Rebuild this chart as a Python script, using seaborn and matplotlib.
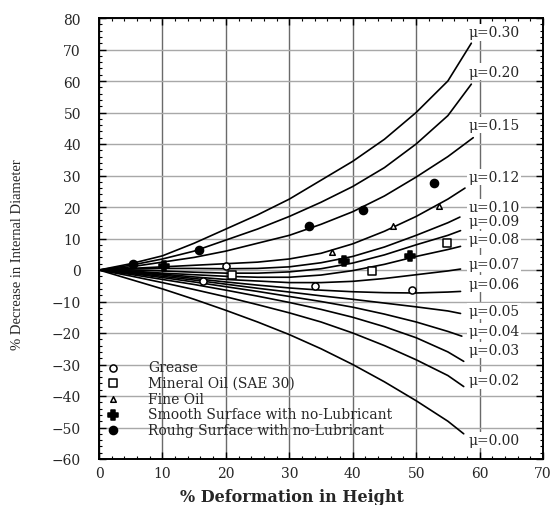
import pandas as pd
import numpy as np
import seaborn as sns
import matplotlib.pyplot as plt
from matplotlib.ticker import MultipleLocator

# valores leidos a ojo de la figura
x_steps = [0, 5, 10, 15, 20, 25, 30, 35, 40, 45, 50, 55]

mu_030 = [0, 2.0, 4.5, 8.5, 13.0, 17.5, 22.5, 28.5, 34.5, 41.5, 50.0, 60.0]
mu_020 = [0, 1.5, 3.5, 6.0, 9.5, 13.0, 17.0, 21.5, 26.5, 32.5, 40.0, 49.0]
mu_015 = [0, 1.0, 2.5, 4.0, 6.0, 8.5, 11.0, 14.5, 18.5, 23.5, 29.5, 36.0]
mu_012 = [0, 0.5, 1.0, 1.5, 2.0, 2.5, 3.5, 5.3, 8.3, 12.3, 17.0, 22.5]
mu_010 = [0, 0.3, 0.5, 0.5, 0.4, 0.5, 1.0, 2.3, 4.3, 7.3, 11.0, 15.0]
mu_009 = [0, 0.0, -0.3, -0.7, -1.0, -1.0, -0.6, 0.4, 2.2, 4.8, 8.0, 11.0]
mu_008 = [0, -0.3, -1.0, -1.5, -2.0, -2.3, -2.3, -1.6, -0.2, 1.8, 4.3, 6.5]
mu_007 = [0, -0.5, -1.3, -2.2, -3.0, -3.5, -4.0, -4.0, -3.6, -2.7, -1.5, -0.3]
mu_006 = [0, -0.7, -1.6, -2.7, -3.8, -4.8, -5.7, -6.4, -6.9, -7.2, -7.3, -7.0]
mu_005 = [0, -0.9, -2.0, -3.2, -4.5, -5.8, -7.0, -8.2, -9.3, -10.5, -11.7, -13.0]
mu_004 = [0, -1.1, -2.4, -3.8, -5.3, -6.8, -8.4, -10.0, -11.8, -14.0, -16.5, -19.5]
mu_003 = [0, -1.4, -3.0, -4.6, -6.4, -8.3, -10.3, -12.5, -15.0, -18.0, -21.5, -26.0]
mu_002 = [0, -1.9, -4.0, -6.2, -8.5, -11.0, -13.6, -16.5, -20.0, -24.0, -28.5, -33.5]
mu_000 = [0, -3.0, -6.0, -9.3, -12.8, -16.5, -20.5, -25.0, -30.0, -35.5, -41.5, -48.0]

mu_names = ['0.30', '0.20', '0.15', '0.12', '0.10', '0.09', '0.08',
            '0.07', '0.06', '0.05', '0.04', '0.03', '0.02', '0.00']
curves = [mu_030, mu_020, mu_015, mu_012, mu_010, mu_009, mu_008,
          mu_007, mu_006, mu_005, mu_004, mu_003, mu_002, mu_000]
end_x = [58.7, 58.7, 59.0, 57.7, 56.9, 57.0, 57.0, 57.0, 57.0, 57.0, 57.2, 57.5, 57.5, 57.5]
end_y = [72.0, 59.0, 42.0, 26.0, 16.8, 12.5, 7.5, 0.3, -6.8, -13.8, -21.0, -29.0, -37.0, -52.0]
label_y = [75.5, 63.0, 46.0, 29.5, 20.0, 15.6, 9.8, 2.0, -4.4, -13.0, -19.4, -25.4, -35.0, -54.0]

# puntos experimentales
grease_x = [20.0, 16.4, 34.0, 49.4]
grease_y = [1.3, -3.5, -5.0, -6.4]
mineral_x = [21.0, 43.0, 54.8]
mineral_y = [-1.6, -0.3, 8.6]
fine_x = [36.7, 46.3, 53.6]
fine_y = [5.7, 14.0, 20.3]
smooth_x = [10.3, 38.7, 49.0]
smooth_y = [1.3, 2.9, 4.4]
rough_x = [5.4, 15.8, 33.1, 41.6, 52.8]
rough_y = [2.0, 6.3, 14.0, 19.0, 27.6]

rows = []
for name, ys, ex, ey in zip(mu_names, curves, end_x, end_y):
    for xv, yv in zip(x_steps + [ex], ys + [ey]):
        rows.append({'mu': name, 'x': xv, 'y': yv})
df = pd.DataFrame(rows)

sns.set_style("ticks")
plt.rcParams['font.family'] = ['DejaVu Serif']

fig = plt.figure(figsize=(5.51, 5.06), dpi=100)
ax = fig.add_axes([99 / 551, 1 - 460 / 506, 444 / 551, 441 / 506])

ax.grid(True, axis='x', color='#6a6a6a', lw=1.0)
ax.grid(True, axis='y', color='#a8a8a8', lw=1.0)
ax.set_axisbelow(True)

sns.lineplot(data=df, x='x', y='y', hue='mu', palette=['black'] * len(mu_names),
             estimator=None, sort=False, legend=False, lw=1.2, ax=ax, zorder=3)

for name, ly in zip(mu_names, label_y):
    ax.text(58.3, ly, '\u03bc=' + name, fontsize=10, va='center', ha='left', zorder=4,
            bbox=dict(facecolor='white', edgecolor='none', pad=1.0))

kw = dict(ax=ax, zorder=5, edgecolor='black', linewidth=1.1)
sns.scatterplot(x=grease_x, y=grease_y, marker='o', s=26, facecolor='white',
                label='Grease', **kw)
sns.scatterplot(x=mineral_x, y=mineral_y, marker='s', s=36, facecolor='white',
                label='Mineral Oil (SAE 30)', **kw)
sns.scatterplot(x=fine_x, y=fine_y, marker='^', s=16, facecolor='white',
                label='Fine Oil', **kw)
sns.scatterplot(x=smooth_x, y=smooth_y, marker='P', s=50, facecolor='black',
                label='Smooth Surface with no-Lubricant', **kw)
sns.scatterplot(x=rough_x, y=rough_y, marker='o', s=34, facecolor='black',
                label='Rouhg Surface with no-Lubricant', **kw)

ax.legend(loc='lower left', bbox_to_anchor=(0.016, 0.05), frameon=False,
          borderaxespad=0, borderpad=0, handlelength=1.0, handletextpad=2.0,
          labelspacing=0.12, fontsize=10)

ax.set_xlim(0, 70)
ax.set_ylim(-60, 80)
ax.xaxis.set_major_locator(MultipleLocator(10))
ax.yaxis.set_major_locator(MultipleLocator(10))
ax.xaxis.set_minor_locator(MultipleLocator(2))
ax.yaxis.set_minor_locator(MultipleLocator(2))
ax.tick_params(which='both', direction='in', top=True, right=True, color='black')
ax.tick_params(which='major', length=5, width=1.0, labelsize=10)
ax.tick_params(which='minor', length=2.5, width=0.8)
ax.tick_params(axis='y', which='major', pad=13)
ax.tick_params(axis='x', which='major', pad=5)
for sp in ax.spines.values():
    sp.set_color('black')
    sp.set_linewidth(1.4)

ax.set_xlabel('% Deformation in Height', fontsize=11.5, fontweight='bold')
ax.xaxis.set_label_coords((292 - 99) / 444, -0.065)
ax.set_ylabel('% Decrease in Internal Diameter', fontsize=10.5, family='Liberation Serif')
ax.yaxis.set_label_coords(-0.17, 0.465)

plt.savefig('out.png', dpi=100)
